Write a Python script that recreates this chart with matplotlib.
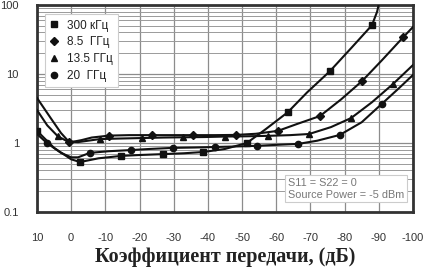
import matplotlib
matplotlib.use("Agg")
import matplotlib.pyplot as plt
from matplotlib.lines import Line2D
from matplotlib.ticker import FixedLocator, NullFormatter, LogLocator

# --- data ---
# 300 кГц
x_300k = [10, 5, 0, -2.6, -8, -14.6, -20, -26.9, -33, -38.6, -45, -51.4, -57, -63.4, -69, -75.7, -82, -88, -89.5, -90.6]
y_300k = [1.5, 0.85, 0.58, 0.53, 0.6, 0.65, 0.67, 0.69, 0.71, 0.74, 0.82, 1.0, 1.6, 2.8, 5.4, 11, 24, 51, 80, 140]
m_300k = [0, 3, 5, 7, 9, 11, 13, 15, 17]

# 8.5 ГГц
x_8g5 = [10, 6, 3, 0.5, -3, -6, -11.1, -17, -23.6, -30, -35.6, -42, -48.2, -54, -60.5, -66, -72.8, -79, -85.1, -91, -97.1, -100]
y_8g5 = [4.5, 2.3, 1.4, 1.02, 1.1, 1.2, 1.28, 1.3, 1.3, 1.3, 1.3, 1.3, 1.31, 1.36, 1.5, 1.88, 2.46, 4.3, 7.9, 16, 34, 48]
m_8g5 = [3, 6, 8, 10, 12, 14, 16, 18, 20]

# 13.5 ГГц
x_13g5 = [10, 7, 3.9, 1, -2, -8.4, -14, -20.7, -27, -32.7, -39, -45, -51, -57.6, -64, -69.6, -76, -81.9, -88, -94.2, -100]
y_13g5 = [3.0, 1.8, 1.25, 1.05, 1.03, 1.14, 1.16, 1.18, 1.2, 1.21, 1.22, 1.24, 1.25, 1.27, 1.3, 1.35, 1.7, 2.3, 3.9, 7.2, 13.5]
m_13g5 = [2, 5, 7, 9, 11, 13, 15, 17, 19]

# 20 ГГц
x_20g = [10, 7.1, 3, 0, -2, -5.5, -11, -17.5, -23, -29.8, -36, -42.1, -48, -54.4, -60, -66.4, -72, -78.6, -85, -90.9, -96, -100]
y_20g = [1.35, 1.0, 0.72, 0.62, 0.62, 0.72, 0.76, 0.79, 0.82, 0.85, 0.86, 0.875, 0.89, 0.91, 0.94, 0.97, 1.08, 1.31, 2.0, 3.7, 6.3, 9.7]
m_20g = [1, 5, 7, 9, 11, 13, 15, 17, 19]

labels = ["300 кГц", "8.5  ГГц", "13.5 ГГц", "20  ГГц"]
markers = ["s", "D", "^", "o"]
msizes = [5, 4.5, 5, 4.5]

x_ticks = [10, 0, -10, -20, -30, -40, -50, -60, -70, -80, -90, -100]
y_ticks = [0.1, 1, 10, 100]
y_ticklabels = ["0.1", "1", "10", "100"]

note = "S11 = S22 = 0\nSource Power = -5 dBm"
xlabel = "Коэффициент передачи, (дБ)"

plt.rcParams['font.family'] = ['Liberation Sans', 'DejaVu Sans']

fig = plt.figure(figsize=(4.27, 2.69), dpi=100)
ax = fig.add_axes([37 / 427, 1 - 212 / 269, 376 / 427, 207 / 269])

ax.set_yscale('log')
ax.set_xlim(10, -100)
ax.set_ylim(0.1, 100)

series = [(x_300k, y_300k, m_300k), (x_8g5, y_8g5, m_8g5),
          (x_13g5, y_13g5, m_13g5), (x_20g, y_20g, m_20g)]
for (xs, ys, mk), m, ms in zip(series, markers, msizes):
    ax.plot(xs, ys, color='#111111', lw=1.5, marker=m, ms=ms,
            markevery=mk, mfc='#111111', mec='#111111', zorder=3)

# grid
ax.xaxis.set_major_locator(FixedLocator(x_ticks))
ax.set_xticklabels([str(v) for v in x_ticks])
ax.yaxis.set_major_locator(FixedLocator(y_ticks))
ax.set_yticklabels(y_ticklabels)
ax.yaxis.set_minor_locator(LogLocator(base=10, subs=range(2, 10)))
ax.yaxis.set_minor_formatter(NullFormatter())
ax.grid(True, which='major', color='#8c8c8c', lw=0.9)
ax.grid(True, which='minor', axis='y', color='#9a9a9a', lw=0.7)
ax.set_axisbelow(True)

ax.tick_params(which='both', length=0)
ax.tick_params(axis='x', pad=15, labelsize=8, labelcolor='#333333')
ax.tick_params(axis='y', pad=13, labelsize=8, labelcolor='#333333')

for s in ax.spines.values():
    s.set_linewidth(2)
    s.set_color('#333333')

ax.set_xlabel(xlabel, family=['Liberation Serif', 'DejaVu Serif'],
              fontweight='bold', fontsize=14.5, labelpad=3, color='#222222')

handles = [Line2D([], [], ls='none', marker=m, ms=ms, color='#111111')
           for m, ms in zip(markers, msizes)]
leg = ax.legend(handles, labels, loc='upper left', bbox_to_anchor=(0.022, 0.955),
                fontsize=8.5, frameon=True, fancybox=False, framealpha=1,
                edgecolor='#cccccc', handlelength=0.6, handletextpad=0.8,
                labelspacing=0.4, borderpad=0.45, borderaxespad=0)
leg.get_frame().set_linewidth(0.8)
for t in leg.get_texts():
    t.set_color('#222222')

ax.text(0.667, 0.06, note, transform=ax.transAxes, fontsize=7.8, color='#777777',
        va='bottom', ha='left', linespacing=1.2,
        bbox=dict(boxstyle='square,pad=0.25', fc='white', ec='#cccccc', lw=0.8))

fig.savefig('out.png', dpi=100)
